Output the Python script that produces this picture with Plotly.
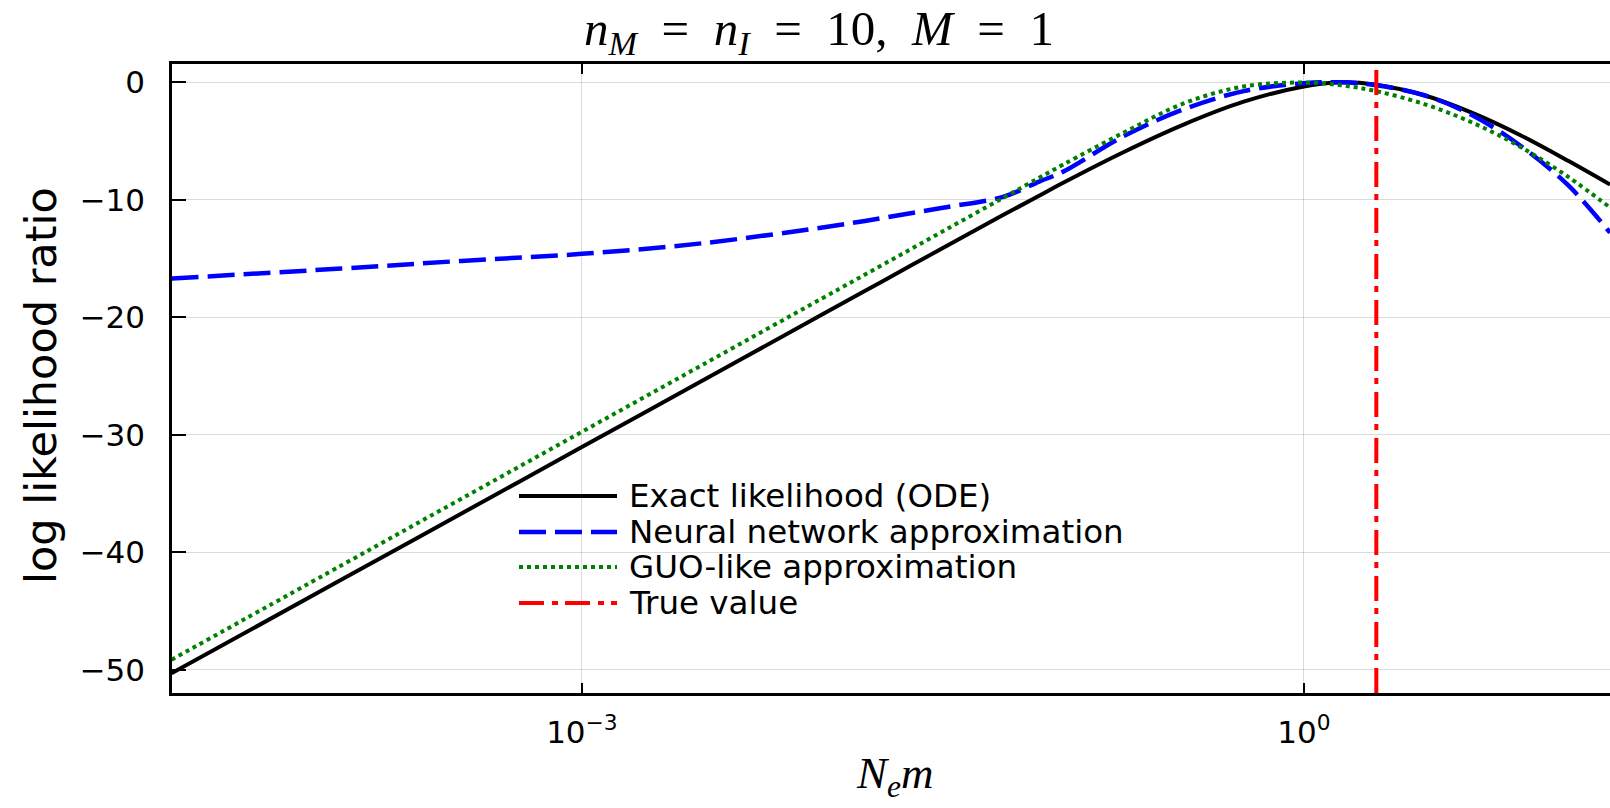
import plotly.graph_objects as go

# ---------------- data ----------------
Nem = [1.972e-5, 1e-4, 3.162e-4, 1e-3, 3.162e-3, 1e-2, 1.778e-2, 3.162e-2,
       5.623e-2, 7.943e-2, 0.1, 0.1778, 0.3162, 0.5623, 1.0, 1.413, 1.995,
       3.162, 5.012, 7.943, 12.59, 18.71]
exact = [-50.3, -42.35, -36.7, -31.05, -25.4, -19.75, -16.93, -14.1,
         -11.3, -9.65, -8.55, -5.95, -3.6, -1.65, -0.35, 0.0, -0.2,
         -1.1, -2.6, -4.5, -6.7, -8.7]
neural = [-16.7, -15.85, -15.2, -14.6, -13.7, -12.35, -11.55, -10.67,
          -9.75, -8.45, -7.6, -4.6, -2.3, -0.75, -0.07, 0.0, -0.25,
          -1.1, -2.8, -5.4, -8.8, -12.8]
guo = [-49.15, -41.13, -35.44, -29.75, -24.06, -18.37, -15.53, -12.68,
       -9.84, -8.13, -7.0, -4.3, -1.8, -0.35, -0.02, -0.24, -0.75,
       -1.85, -3.43, -5.5, -8.07, -10.66]
true_value = 2.0

y_ticks = [0, -10, -20, -30, -40, -50]
x_ticks = [1e-3, 1.0]
x_tick_labels = ["10<sup>\u22123</sup>", "10<sup>0</sup>"]
legend_labels = ["Exact likelihood (ODE)", "Neural network approximation",
                 "GUO-like approximation", "True value"]

# ---------------- layout geometry ----------------
W, H = 1610, 808
L, R, T, B = 172, 0, 64, 115
X_RANGE_LOG = [-4.703, 1.272]
Y_RANGE = [-51.98, 1.56]
PW, PH = W - L - R, H - T - B


def px(x):
    return (x - L) / PW


def py(y):
    return (H - B - y) / PH


SANS = "DejaVu Sans"
SERIF = "Liberation Serif"
ESP = "\u2002"  # en space, for TeX-like spacing in the title

styles = [
    dict(color="black", width=4, dash="solid"),
    dict(color="blue", width=4.5, dash="27px,9px"),
    dict(color="green", width=4, dash="4px,4px"),
    dict(color="red", width=4, dash="25px,8px,6px,7px"),
]

fig = go.Figure()
for yvals, st, name in zip([exact, neural, guo], styles[:3], legend_labels[:3]):
    fig.add_trace(go.Scatter(x=Nem, y=yvals, mode="lines", name=name,
                             line=dict(color=st["color"], width=st["width"],
                                       dash=st["dash"], shape="spline",
                                       smoothing=1.0),
                             showlegend=False, hoverinfo="skip"))

fig.add_trace(go.Scatter(x=[true_value, true_value], y=[Y_RANGE[0], Y_RANGE[1]],
                         mode="lines", name=legend_labels[3],
                         line=dict(color="red", width=4, dash=styles[3]["dash"]),
                         showlegend=False, hoverinfo="skip"))

# manual legend (long line samples like the reference)
legend_rows = [496, 532, 567, 603]
shapes = []
annotations = []
for row, st, lab in zip(legend_rows, styles, legend_labels):
    shapes.append(dict(type="line", xref="paper", yref="paper",
                       x0=px(519), x1=px(617), y0=py(row), y1=py(row),
                       line=dict(color=st["color"], width=st["width"],
                                 dash=st["dash"])))
    annotations.append(dict(x=px(627), y=py(row), xref="paper", yref="paper",
                            text=lab, showarrow=False, xanchor="left",
                            yanchor="middle",
                            font=dict(family=SANS, size=32.5, color="black")))

# title
title_text = ("<i>n</i><sub><i>M</i></sub>" + ESP + "=" + ESP +
              "<i>n</i><sub><i>I</i></sub>" + ESP + "=" + ESP + "10," + ESP +
              "<i>M</i>" + ESP + "=" + ESP + "1")
annotations.append(dict(
    x=px(819), y=py(32), xref="paper", yref="paper", showarrow=False,
    xanchor="center", yanchor="middle", text=title_text,
    font=dict(family=SERIF, size=49, color="black")))
# x label
annotations.append(dict(
    x=px(895), y=py(776), xref="paper", yref="paper", showarrow=False,
    xanchor="center", yanchor="middle",
    text="<i>N</i><sub><i>e</i></sub><i>m</i>",
    font=dict(family=SERIF, size=45, color="black")))
# y label
annotations.append(dict(
    x=px(41), y=py(386), xref="paper", yref="paper", showarrow=False,
    xanchor="center", yanchor="middle", textangle=-90,
    text="log likelihood ratio",
    font=dict(family=SANS, size=43, color="black")))

grid = "rgba(0,0,0,0.14)"
fig.update_layout(
    width=W, height=H,
    margin=dict(l=L, r=R, t=T, b=B, pad=0),
    paper_bgcolor="white", plot_bgcolor="white",
    showlegend=False,
    shapes=shapes, annotations=annotations,
    xaxis=dict(type="log", range=X_RANGE_LOG, showline=True, linecolor="black",
               linewidth=2.5, mirror="ticks", ticks="inside", ticklen=10,
               tickwidth=2, tickcolor="black", showgrid=True, gridcolor=grid,
               gridwidth=1, tickvals=x_ticks, ticktext=x_tick_labels,
               tickfont=dict(family=SANS, size=31, color="black"),
               zeroline=False, ticklabelstandoff=10),
    yaxis=dict(range=Y_RANGE, showline=True, linecolor="black", linewidth=2.5,
               mirror=False, ticks="inside", ticklen=14, tickwidth=2,
               tickcolor="black", showgrid=True, gridcolor=grid, gridwidth=1,
               tickvals=y_ticks, tickfont=dict(family=SANS, size=31, color="black"),
               zeroline=False, ticklabelstandoff=18),
)

fig.write_html("out.html")
